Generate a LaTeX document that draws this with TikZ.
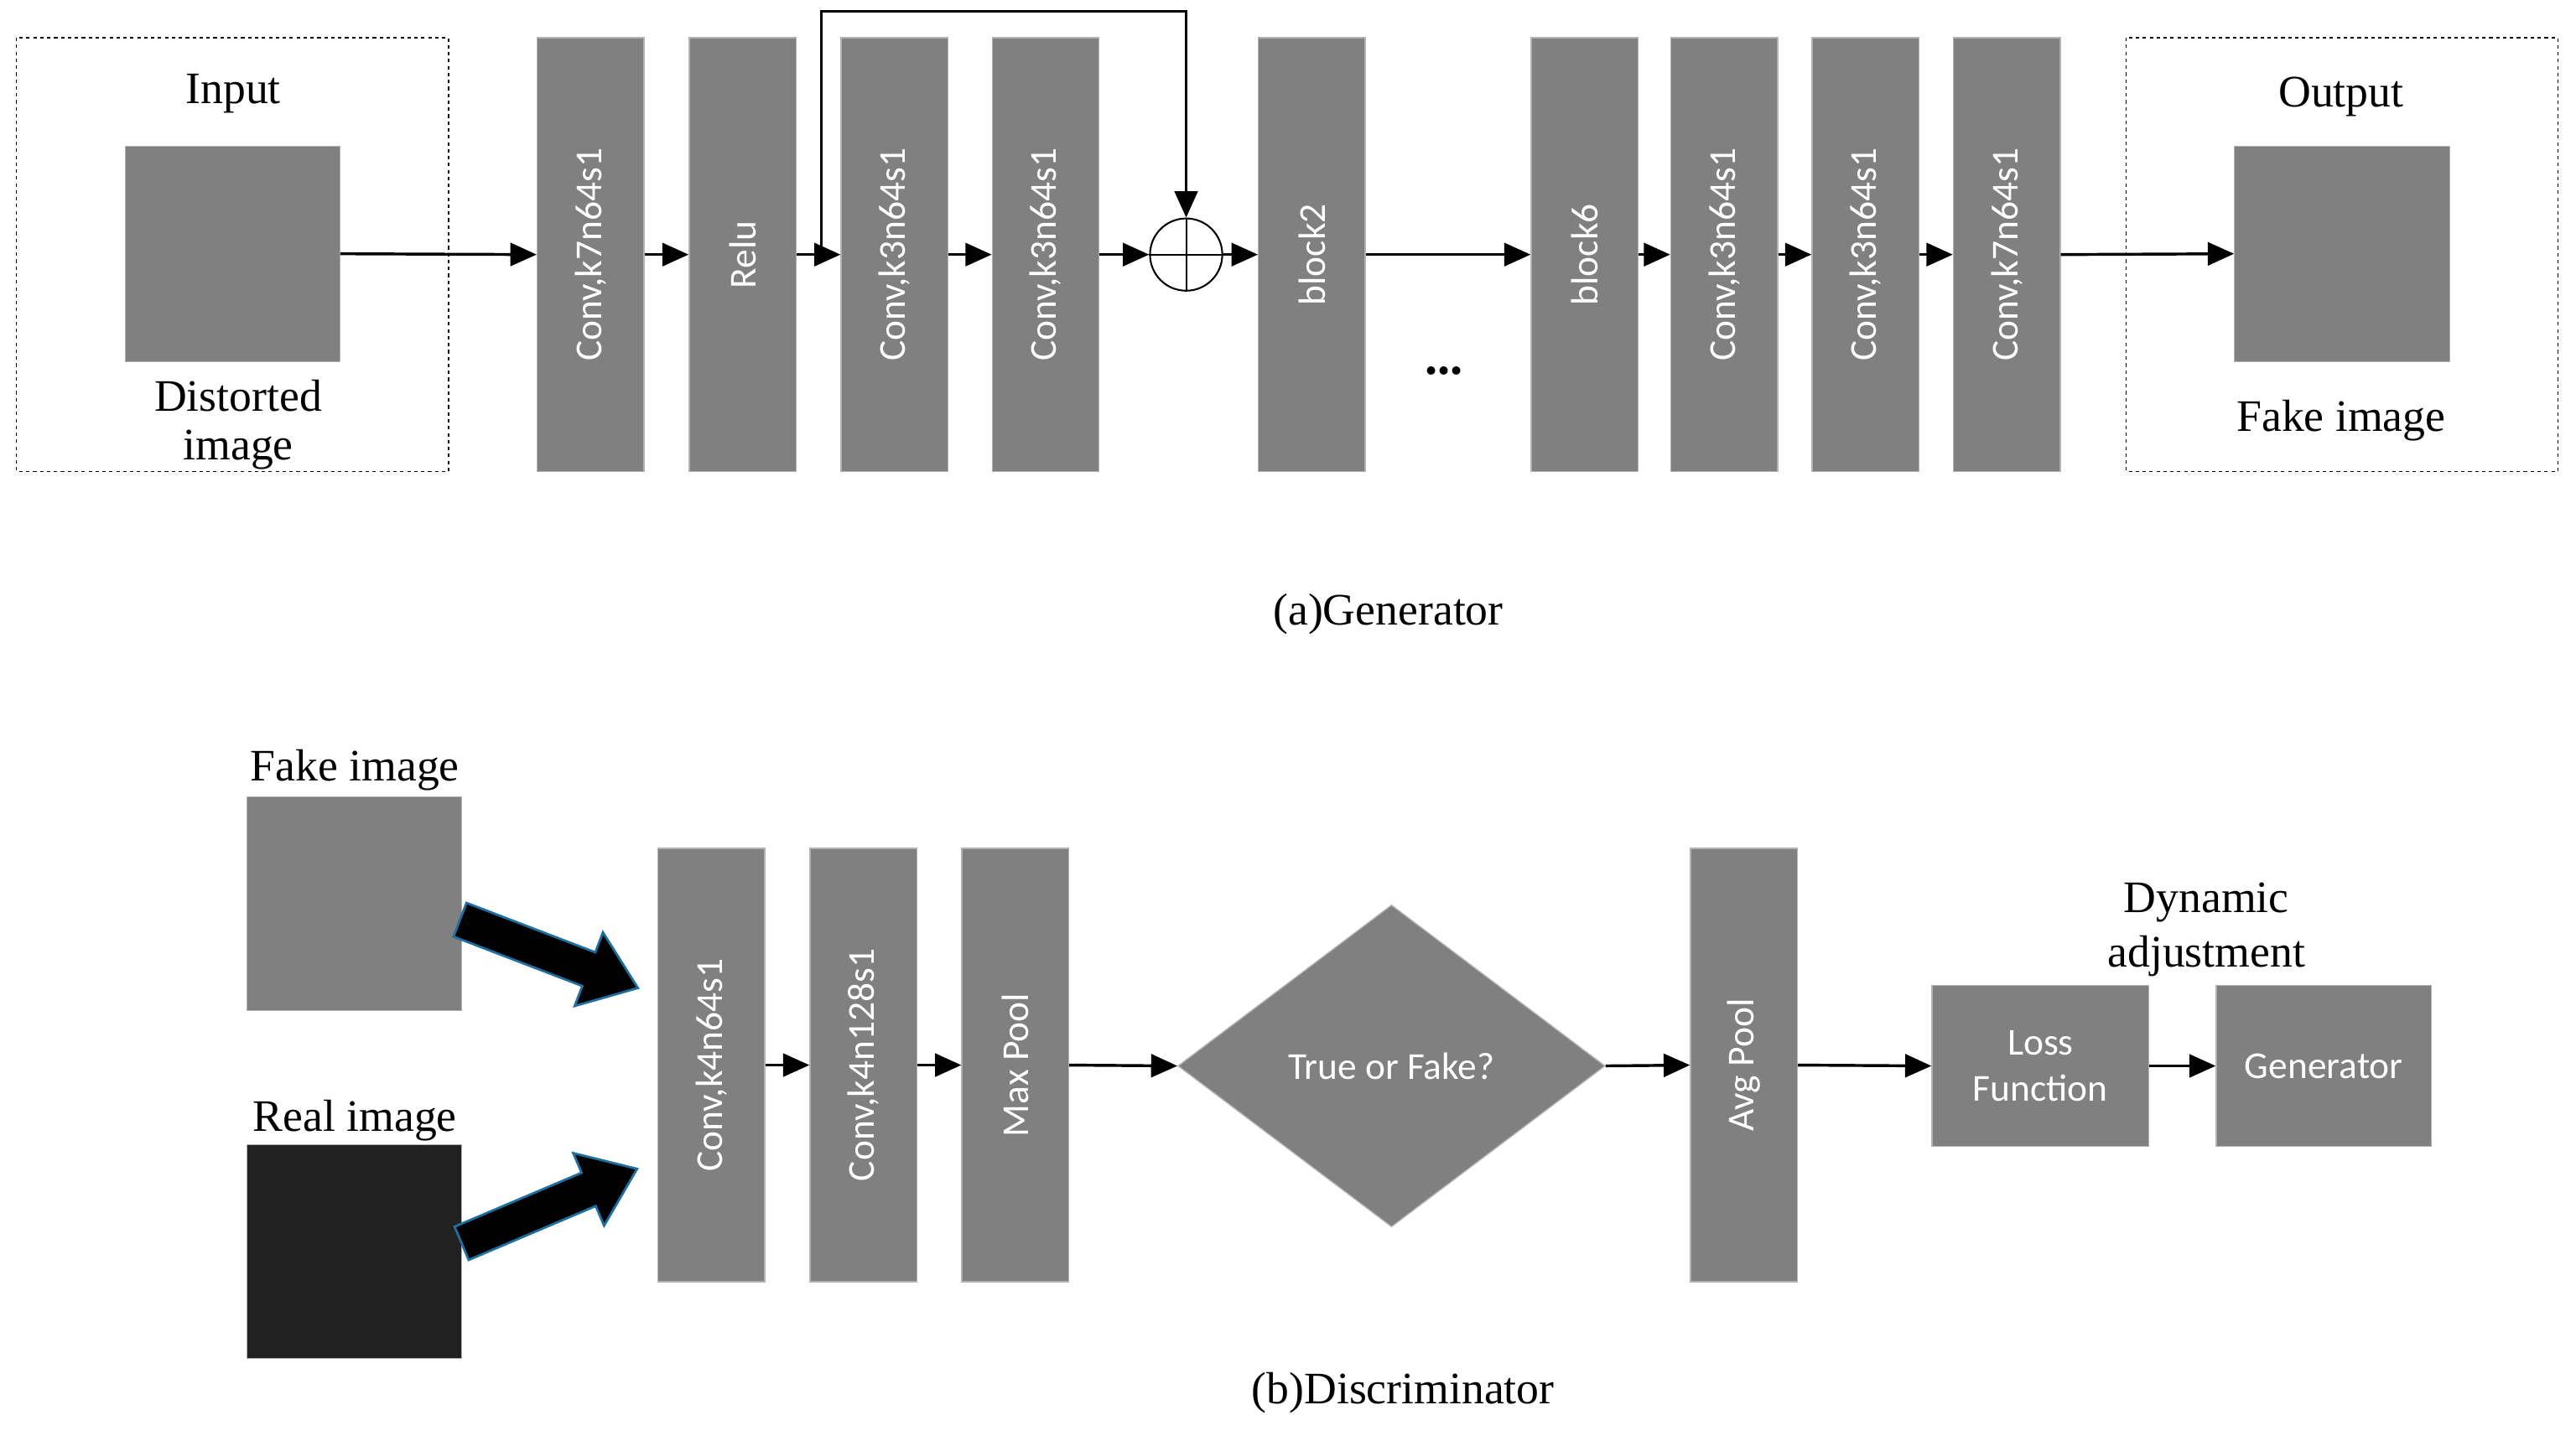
\documentclass[tikz,border=0pt]{standalone}
\usepackage{fontspec}
\setmainfont{Liberation Serif}
\newfontfamily\blk{Carlito}
\usetikzlibrary{shapes.geometric,arrows.meta}
\definecolor{gr}{HTML}{808080}
\definecolor{ab}{RGB}{30,110,160}
\begin{document}
\begin{tikzpicture}[x=0.05cm,y=-0.05cm,
 lab/.style={font=\fontsize{39}{47}\selectfont},
 blkn/.style={fill=gr,draw=gray!60,line width=1pt,text=white,font=\blk\fontsize{33}{40}\selectfont,align=center,inner sep=0},
 vb/.style={blkn,minimum width=3.25cm,minimum height=13.2cm},
 vt/.style={rotate=90,text=white,font=\blk\fontsize{33}{40}\selectfont},
 ar/.style={-{Triangle[length=0.8cm,width=0.7cm]},line width=2.5pt},
 dbox/.style={draw,dashed,line width=1pt},
 fat/.style={fill=black,draw=ab,line width=2pt,line join=miter}]
\useasboundingbox (0,0) rectangle (1568,874);
% generator
\draw[dbox] (10,23) rectangle (273,287);
\node[lab] at (142,57) {Input};
\node[fill=gr,draw=gray!60,minimum width=6.55cm,minimum height=6.55cm,inner sep=0] (in) at (141.5,154.5) {};
\node[lab] at (145,241) {Distorted};
\node[lab] at (145,274) {image};
\draw[dbox] (1294,23) rectangle (1557,287);
\node[lab] at (1425,59) {Output};
\node[fill=gr,draw=gray!60,minimum width=6.55cm,minimum height=6.55cm,inner sep=0] (out) at (1425.5,154.5) {};
\node[lab] at (1425,256) {Fake image};
\foreach \n/\x/\t in {g1/359.5/{Conv,k7n64s1},g2/452/Relu,g3/544.5/{Conv,k3n64s1},g4/636.5/{Conv,k3n64s1},g5/798.5/block2,g6/964.5/block6,g7/1049.5/{Conv,k3n64s1},g8/1135.5/{Conv,k3n64s1},g9/1221.5/{Conv,k7n64s1}}{
 \node[vb] (\n) at (\x,155) {};
 \node[vt] at (\x,155) {\t};}
\node[circle,draw,line width=1.5pt,minimum size=2.2cm,inner sep=0] (sum) at (722,155) {};
\draw[line width=1.5pt] (sum.north)--(sum.south) (sum.west)--(sum.east);
\node[font=\bfseries\fontsize{44}{50}\selectfont] (dots) at (879,226) {...};
\draw[ar] (in.east)--(g1.west);
\draw[ar] (g1.east)--(g2.west);
\draw[ar] (g2.east)--(g3.west);
\draw[ar] (g3.east)--(g4.west);
\draw[ar] (g4.east)--(sum.west);
\draw[ar] (sum.east)--(g5.west);
\draw[ar] (g5.east)--(g6.west);
\draw[ar] (g6.east)--(g7.west);
\draw[ar] (g7.east)--(g8.west);
\draw[ar] (g8.east)--(g9.west);
\draw[ar] (g9.east)--(out.west);
\coordinate (sk) at (500,155);
\draw[ar] (sk)--(500,7)--(722,7)--(sum.north);
\node[lab] at (845,374) {(a)Generator};
% discriminator
\node[lab] at (216,469) {Fake image};
\node[fill=gr,draw=gray!60,minimum width=6.55cm,minimum height=6.5cm,inner sep=0] (fk) at (215.5,550) {};
\node[lab] at (216,682) {Real image};
\node[fill=black!87,draw=gray!60,minimum width=6.55cm,minimum height=6.5cm,inner sep=0] (rl) at (215.5,762) {};
\foreach \n/\x/\t in {d1/433/{Conv,k4n64s1},d2/525.5/{Conv,k4n128s1},d3/618/Max Pool,d4/1061.5/Avg Pool}{
 \node[vb] (\n) at (\x,648.5) {};
 \node[vt] at (\x,648.5) {\t};}
\node[diamond,fill=gr,draw=gray!60,line width=1pt,minimum width=13cm,minimum height=9.8cm,inner sep=0,aspect=1.33,text=white,font=\blk\fontsize{33}{40}\selectfont] (dm) at (847,649) {True or Fake?};
\node[blkn,minimum width=6.6cm,minimum height=4.9cm] (loss) at (1242,649) {Loss\\Function};
\node[blkn,minimum width=6.55cm,minimum height=4.9cm] (gen) at (1414.5,649) {Generator};
\node[lab,align=center] at (1343,566) {Dynamic\\adjustment};
\draw[ar] (d1.east)--(d2.west);
\draw[ar] (d2.east)--(d3.west);
\draw[ar] (d3.east)--(dm.west);
\draw[ar] (dm.east)--(d4.west);
\draw[ar] (d4.east)--(loss.west);
\draw[ar] (loss.east)--(gen.west);
\begin{scope}[shift={(280,560)},rotate=-21]
\draw[fat] (0,-11)--(84,-11)--(84,-24)--(116,0)--(84,24)--(84,11)--(0,11)--cycle;
\end{scope}
\begin{scope}[shift={(281,757)},rotate=23]
\draw[fat] (0,-11)--(84,-11)--(84,-24)--(116,0)--(84,24)--(84,11)--(0,11)--cycle;
\end{scope}
\node[lab] at (854,848) {(b)Discriminator};
\end{tikzpicture}
\end{document}
